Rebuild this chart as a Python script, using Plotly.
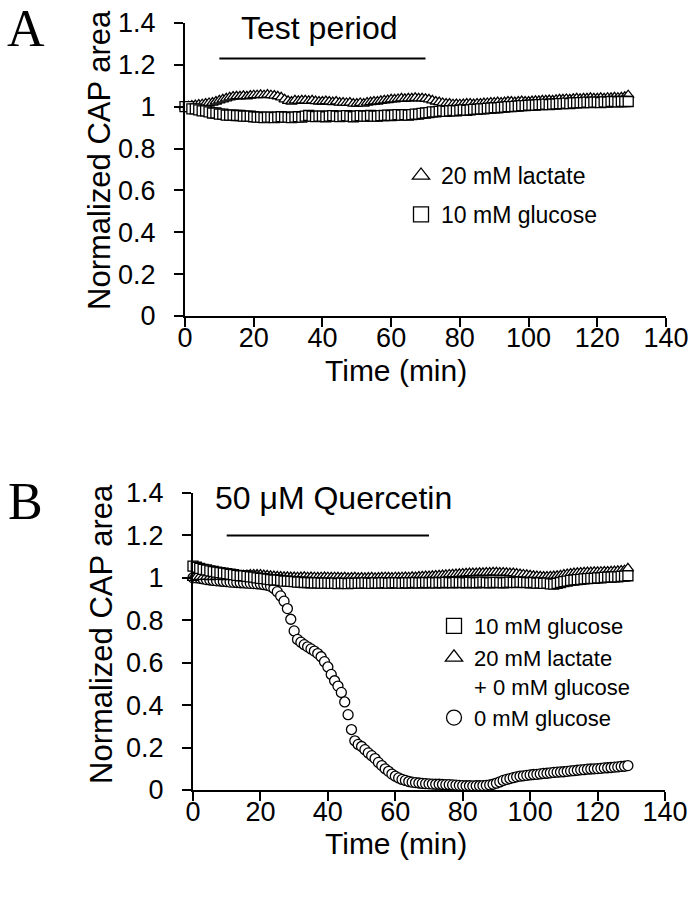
import plotly.graph_objects as go

W, H = 695, 899

# ---------------- data ----------------
time_min = list(range(0, 130))

a_glucose = [
    1.00, 1.00, 0.99, 0.99, 0.985, 0.98, 0.98, 0.975, 0.97, 0.97,
    0.965, 0.965, 0.96, 0.96, 0.96, 0.958, 0.958, 0.955, 0.955, 0.955,
    0.952, 0.95, 0.95, 0.948, 0.95, 0.95, 0.948, 0.95, 0.952, 0.95,
    0.95, 0.948, 0.95, 0.952, 0.95, 0.955, 0.958, 0.955, 0.953, 0.955,
    0.955, 0.952, 0.955, 0.957, 0.955, 0.953, 0.955, 0.957, 0.955, 0.952,
    0.955, 0.957, 0.955, 0.955, 0.958, 0.955, 0.955, 0.957, 0.958, 0.96,
    0.958, 0.96, 0.962, 0.96, 0.962, 0.96, 0.962, 0.965, 0.965, 0.968,
    0.97, 0.972, 0.975, 0.975, 0.978, 0.98, 0.978, 0.98, 0.982, 0.98,
    0.983, 0.985, 0.983, 0.985, 0.987, 0.988, 0.99, 0.99, 0.992, 0.993,
    0.995, 0.995, 0.997, 0.998, 1.0, 1.0, 1.002, 1.003, 1.005, 1.005,
    1.007, 1.008, 1.008, 1.01, 1.01, 1.012, 1.01, 1.012, 1.013, 1.015,
    1.015, 1.017, 1.015, 1.018, 1.018, 1.02, 1.02, 1.022, 1.02, 1.022,
    1.022, 1.02, 1.023, 1.022, 1.025, 1.025, 1.023, 1.025, 1.025, 1.025,
]

a_lactate = [
    1.00, 1.002, 1.005, 1.008, 1.01, 1.012, 1.015, 1.018, 1.02, 1.025,
    1.03, 1.035, 1.04, 1.045, 1.048, 1.05, 1.05, 1.052, 1.05, 1.053,
    1.055, 1.055, 1.057, 1.055, 1.058, 1.055, 1.053, 1.05, 1.045, 1.035,
    1.028, 1.025, 1.03, 1.028, 1.03, 1.03, 1.028, 1.03, 1.027, 1.025,
    1.025, 1.027, 1.025, 1.022, 1.025, 1.02, 1.02, 1.018, 1.02, 1.015,
    1.015, 1.018, 1.015, 1.02, 1.022, 1.025, 1.025, 1.028, 1.03, 1.032,
    1.035, 1.035, 1.037, 1.04, 1.038, 1.04, 1.04, 1.042, 1.04, 1.04,
    1.038, 1.035, 1.03, 1.025, 1.022, 1.018, 1.015, 1.015, 1.012, 1.013,
    1.012, 1.013, 1.015, 1.015, 1.013, 1.015, 1.015, 1.017, 1.018, 1.02,
    1.02, 1.022, 1.02, 1.022, 1.025, 1.025, 1.022, 1.025, 1.027, 1.025,
    1.025, 1.027, 1.028, 1.028, 1.03, 1.03, 1.032, 1.03, 1.033, 1.035,
    1.035, 1.037, 1.035, 1.038, 1.04, 1.038, 1.04, 1.04, 1.042, 1.04,
    1.04, 1.042, 1.04, 1.043, 1.042, 1.045, 1.043, 1.045, 1.047, 1.055,
]

b_glucose = [
    1.055, 1.05, 1.045, 1.04, 1.037, 1.033, 1.03, 1.027, 1.025, 1.022,
    1.02, 1.017, 1.015, 1.012, 1.01, 1.01, 1.007, 1.005, 1.003, 1.0,
    0.998, 0.996, 0.994, 0.992, 0.99, 0.99, 0.988, 0.985, 0.985, 0.983,
    0.982, 0.98, 0.98, 0.978, 0.978, 0.977, 0.976, 0.976, 0.975, 0.975,
    0.975, 0.974, 0.975, 0.973, 0.975, 0.974, 0.973, 0.975, 0.974, 0.975,
    0.975, 0.976, 0.975, 0.974, 0.976, 0.975, 0.976, 0.977, 0.975, 0.976,
    0.977, 0.976, 0.975, 0.977, 0.976, 0.977, 0.978, 0.976, 0.977, 0.978,
    0.977, 0.978, 0.976, 0.978, 0.977, 0.979, 0.978, 0.977, 0.979, 0.978,
    0.978, 0.977, 0.979, 0.978, 0.977, 0.978, 0.98, 0.978, 0.977, 0.978,
    0.979, 0.978, 0.977, 0.978, 0.98, 0.979, 0.978, 0.98, 0.979, 0.978,
    0.977, 0.978, 0.975, 0.976, 0.974, 0.975, 0.972, 0.97, 0.974, 0.978,
    0.982, 0.985, 0.988, 0.99, 0.992, 0.993, 0.995, 0.996, 0.998, 0.998,
    1.0, 1.0, 1.002, 1.003, 1.004, 1.005, 1.005, 1.007, 1.008, 1.01,
]

b_lactate = [
    1.0, 1.003, 1.005, 1.005, 1.006, 1.004, 1.005, 1.006, 1.005, 1.004,
    1.005, 1.006, 1.007, 1.008, 1.01, 1.012, 1.013, 1.015, 1.016, 1.015,
    1.015, 1.013, 1.012, 1.01, 1.008, 1.007, 1.006, 1.005, 1.005, 1.004,
    1.004, 1.003, 1.004, 1.005, 1.003, 1.004, 1.003, 1.002, 1.003, 1.004,
    1.003, 1.002, 1.003, 1.002, 1.001, 1.002, 1.0, 1.001, 1.002, 1.0,
    1.001, 1.0, 1.001, 1.002, 1.0, 1.001, 1.002, 1.003, 1.002, 1.001,
    1.003, 1.002, 1.003, 1.004, 1.003, 1.005, 1.004, 1.006, 1.007, 1.008,
    1.008, 1.01, 1.011, 1.012, 1.013, 1.014, 1.016, 1.017, 1.018, 1.019,
    1.02, 1.021, 1.022, 1.022, 1.023, 1.024, 1.024, 1.025, 1.025, 1.026,
    1.026, 1.025, 1.025, 1.024, 1.023, 1.022, 1.02, 1.018, 1.016, 1.014,
    1.012, 1.01, 1.008, 1.007, 1.006, 1.006, 1.007, 1.008, 1.01, 1.012,
    1.015, 1.018, 1.02, 1.022, 1.024, 1.025, 1.026, 1.027, 1.027, 1.028,
    1.028, 1.029, 1.03, 1.03, 1.031, 1.032, 1.033, 1.034, 1.036, 1.045,
]

b_noglucose = [
    1.0, 1.0, 0.998, 0.995, 0.992, 0.99, 0.988, 0.986, 0.985, 0.983,
    0.982, 0.98, 0.979, 0.978, 0.977, 0.976, 0.975, 0.974, 0.973, 0.972,
    0.97, 0.968, 0.965, 0.96, 0.95, 0.935, 0.915, 0.89, 0.855, 0.805,
    0.75, 0.71, 0.697, 0.685, 0.675, 0.665, 0.655, 0.643, 0.628, 0.605,
    0.58, 0.545, 0.515, 0.49, 0.46, 0.415, 0.355, 0.285, 0.232, 0.215,
    0.205, 0.19, 0.175, 0.162, 0.148, 0.13, 0.115, 0.1, 0.088, 0.075,
    0.065, 0.057, 0.05, 0.045, 0.04, 0.037, 0.035, 0.033, 0.031, 0.03,
    0.029, 0.028, 0.027, 0.027, 0.026, 0.025, 0.025, 0.024, 0.023, 0.022,
    0.021, 0.02, 0.02, 0.019, 0.02, 0.02, 0.021, 0.022, 0.024, 0.027,
    0.032, 0.038, 0.045, 0.05, 0.054, 0.058, 0.062, 0.065, 0.067, 0.069,
    0.071, 0.073, 0.074, 0.076, 0.078, 0.079, 0.081, 0.083, 0.084, 0.085,
    0.086, 0.088, 0.09, 0.091, 0.093, 0.095, 0.096, 0.098, 0.099, 0.1,
    0.101, 0.102, 0.104, 0.105, 0.106, 0.108, 0.109, 0.111, 0.112, 0.115,
]

treatment_period = [10, 70]
x_ticks = [0, 20, 40, 60, 80, 100, 120, 140]
y_ticks = [0, 0.2, 0.4, 0.6, 0.8, 1, 1.2, 1.4]
y_tick_text = ["0", "0.2", "0.4", "0.6", "0.8", "1", "1.2", "1.4"]

# ---------------- helpers ----------------
SANS = "Liberation Sans, Arial, Helvetica, sans-serif"
SERIF = "Liberation Serif, Times New Roman, serif"
MS = 10


def px(x):
    return x / W


def py(y):
    return 1 - y / H


def marker(symbol, size=MS):
    return dict(symbol=symbol, size=size, color="white",
                line=dict(color="black", width=1.3))


fig = go.Figure()

# Panel A
fig.add_trace(go.Scatter(x=time_min, y=a_lactate, mode="markers",
                         marker=marker("triangle-up"), xaxis="x", yaxis="y",
                         showlegend=False, cliponaxis=False))
fig.add_trace(go.Scatter(x=time_min, y=a_glucose, mode="markers",
                         marker=marker("square"), xaxis="x", yaxis="y",
                         showlegend=False, cliponaxis=False))
# Panel B
fig.add_trace(go.Scatter(x=time_min, y=b_noglucose, mode="markers",
                         marker=marker("circle"), xaxis="x2", yaxis="y2",
                         showlegend=False, cliponaxis=False))
fig.add_trace(go.Scatter(x=time_min, y=b_lactate, mode="markers",
                         marker=marker("triangle-up"), xaxis="x2", yaxis="y2",
                         showlegend=False, cliponaxis=False))
fig.add_trace(go.Scatter(x=time_min, y=b_glucose, mode="markers",
                         marker=marker("square"), xaxis="x2", yaxis="y2",
                         showlegend=False, cliponaxis=False))

# legend entries
LS = 15
fig.add_trace(go.Scatter(x=[None], y=[None], mode="markers", name="20 mM lactate",
                         marker=marker("triangle-up", LS), legend="legend",
                         legendgroup="a1", xaxis="x", yaxis="y"))
fig.add_trace(go.Scatter(x=[None], y=[None], mode="markers", name="10 mM glucose",
                         marker=marker("square", LS), legend="legend",
                         legendgroup="a2", xaxis="x", yaxis="y"))
fig.add_trace(go.Scatter(x=[None], y=[None], mode="markers", name="10 mM glucose",
                         marker=marker("square", LS), legend="legend2",
                         xaxis="x2", yaxis="y2"))
fig.add_trace(go.Scatter(x=[None], y=[None], mode="markers",
                         name="20 mM lactate<br>+ 0 mM glucose",
                         marker=marker("triangle-up", LS), legend="legend2",
                         xaxis="x2", yaxis="y2"))
fig.add_trace(go.Scatter(x=[None], y=[None], mode="markers", name="0 mM glucose",
                         marker=marker("circle", LS), legend="legend2",
                         xaxis="x2", yaxis="y2"))

axis_common = dict(showline=True, linecolor="black", linewidth=2,
                   ticks="outside", ticklen=9, tickwidth=2, tickcolor="black",
                   showgrid=False, zeroline=False, automargin=False,
                   tickfont=dict(family=SANS, size=27, color="black"))

fig.update_layout(
    template="none",
    width=W, height=H,
    margin=dict(l=0, r=0, t=0, b=0, pad=0, autoexpand=False),
    paper_bgcolor="white", plot_bgcolor="white",
    xaxis=dict(domain=[px(185), px(666)], range=[0, 140], tickvals=x_ticks,
               anchor="y", ticklabelstandoff=-12, **axis_common),
    yaxis=dict(domain=[py(316), py(23)], range=[0, 1.4], tickvals=y_ticks,
               ticktext=y_tick_text, anchor="x", ticklabelstandoff=13, **axis_common),
    xaxis2=dict(domain=[px(193), px(665)], range=[0, 140], tickvals=x_ticks,
                anchor="y2", ticklabelstandoff=-12, **axis_common),
    yaxis2=dict(domain=[py(790), py(493)], range=[0, 1.4], tickvals=y_ticks,
                ticktext=y_tick_text, anchor="x2", ticklabelstandoff=13, **axis_common),
    legend=dict(x=px(401), y=py(154), xanchor="left", yanchor="top",
                font=dict(family=SANS, size=23, color="black"),
                bgcolor="rgba(0,0,0,0)", tracegroupgap=6, itemwidth=30),
    legend2=dict(x=px(434), y=py(605), xanchor="left", yanchor="top",
                 font=dict(family=SANS, size=22, color="black"),
                 bgcolor="rgba(0,0,0,0)", itemwidth=30, valign="top"),
)

# treatment bars
fig.add_shape(type="line", xref="x", yref="y", x0=treatment_period[0],
              x1=treatment_period[1], y0=1.23, y1=1.23,
              line=dict(color="black", width=2))
fig.add_shape(type="line", xref="x2", yref="y2", x0=treatment_period[0],
              x1=treatment_period[1], y0=1.2, y1=1.2,
              line=dict(color="black", width=2))

ann = [
    dict(text="A", x=px(26), y=py(29), font=dict(family=SERIF, size=52)),
    dict(text="B", x=px(25), y=py(502), font=dict(family=SERIF, size=52)),
    dict(text="Test period", x=px(319), y=py(28), font=dict(family=SANS, size=32)),
    dict(text="50 μM Quercetin", x=px(333), y=py(498), font=dict(family=SANS, size=32)),
    dict(text="Normalized CAP area", x=px(99), y=py(160), textangle=-90,
         font=dict(family=SANS, size=31)),
    dict(text="Normalized CAP area", x=px(101), y=py(634), textangle=-90,
         font=dict(family=SANS, size=31)),
    dict(text="Time (min)", x=px(396), y=py(370), font=dict(family=SANS, size=30)),
    dict(text="Time (min)", x=px(396), y=py(843), font=dict(family=SANS, size=30)),
]
for a in ann:
    a.setdefault("xref", "paper")
    a.setdefault("yref", "paper")
    a["showarrow"] = False
    a["xanchor"] = "center"
    a["yanchor"] = "middle"
    a["font"]["color"] = "black"
    fig.add_annotation(**a)

fig.write_html("out.html",
               config={"displayModeBar": False},
               post_script="document.body.style.margin='0';"
                           "document.body.style.padding='0';")
